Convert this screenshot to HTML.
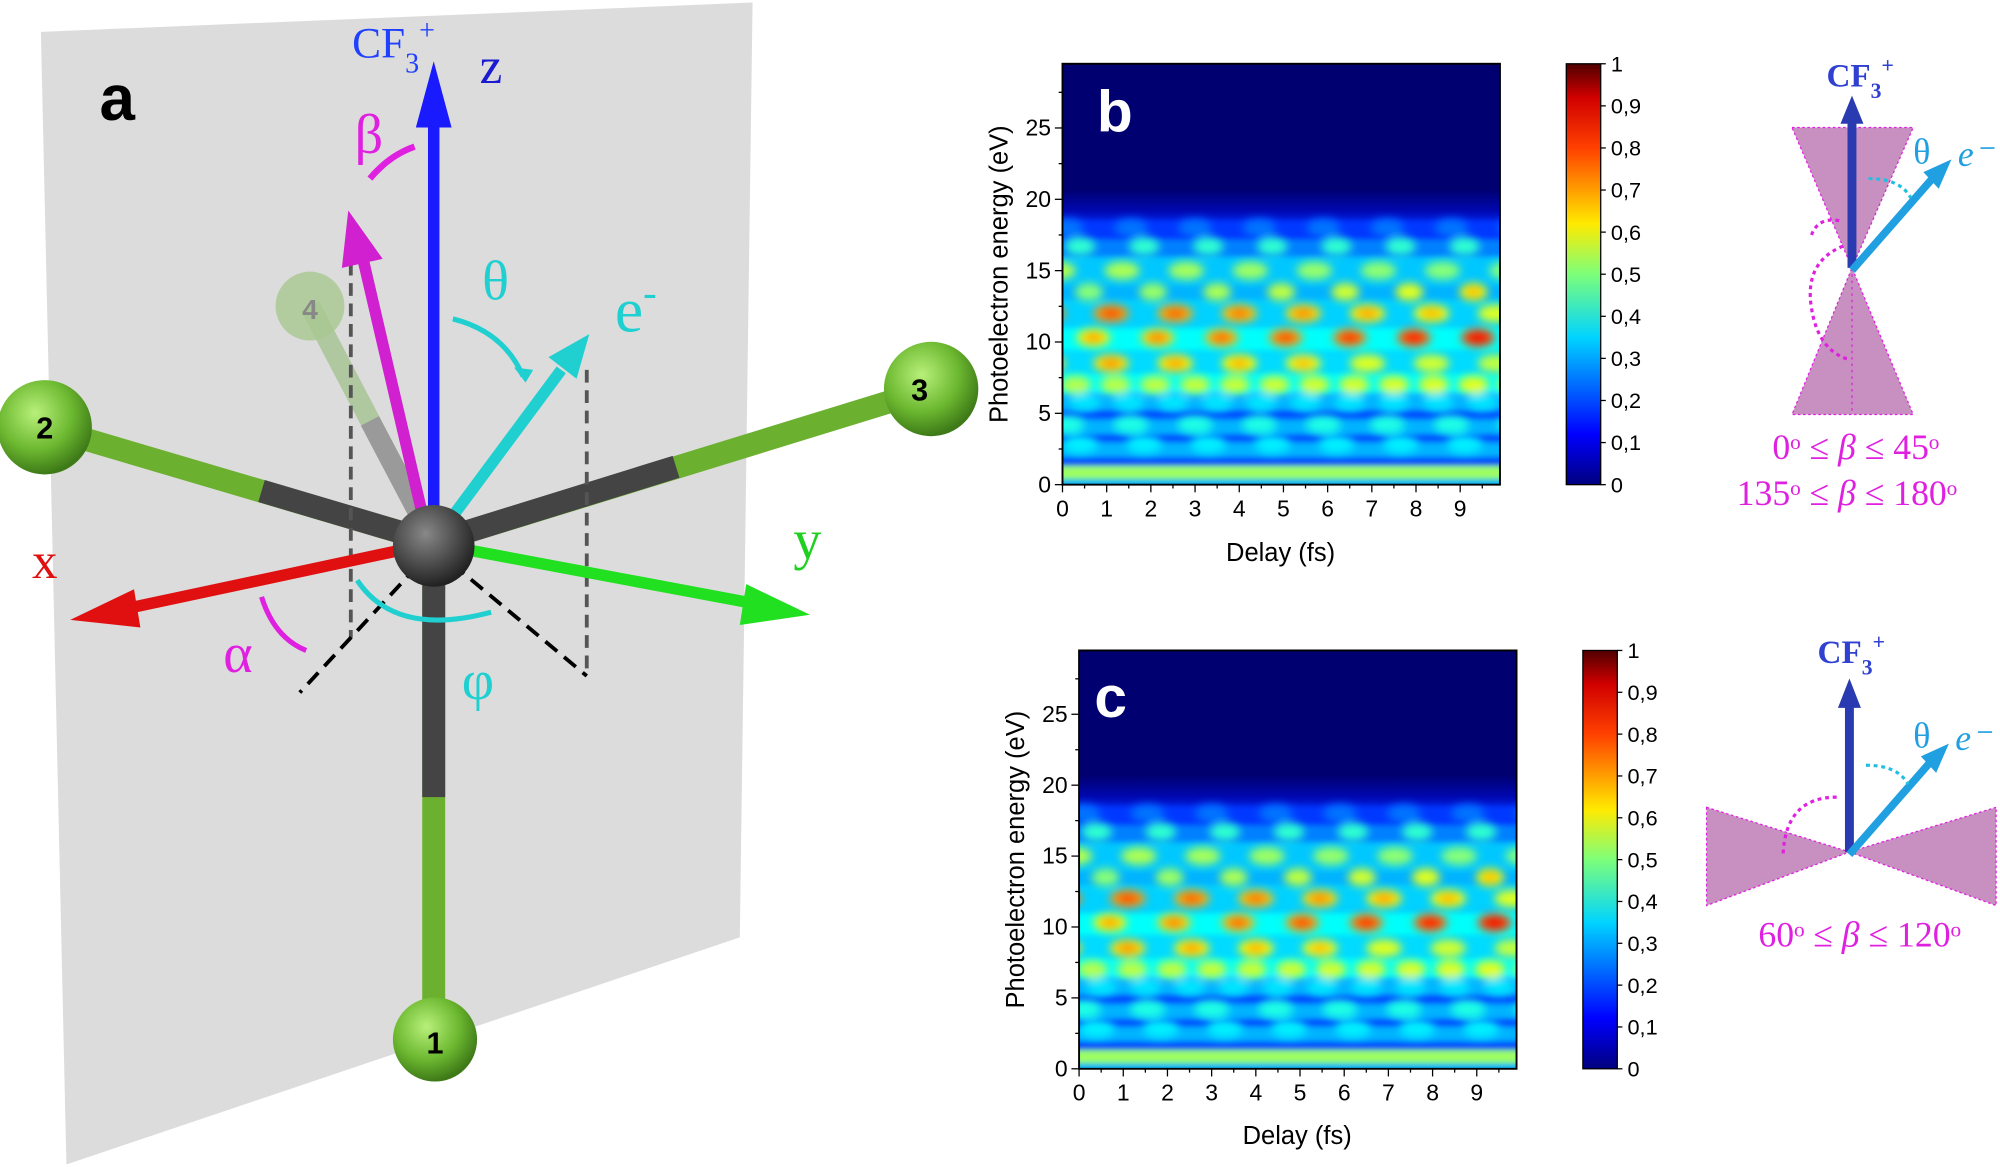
<!DOCTYPE html>
<html><head><meta charset="utf-8"><style>
html,body{margin:0;padding:0;background:#fff;width:2000px;height:1167px;overflow:hidden}
svg{display:block}
text{font-family:"Liberation Sans",sans-serif}
.s{font-family:"Liberation Serif",serif}
</style></head><body>
<svg id="s" width="2000" height="1167" viewBox="0 0 1568 915" xmlns="http://www.w3.org/2000/svg">
<defs>
<linearGradient id="jet" x1="0" y1="1" x2="0" y2="0">
<stop offset="0" stop-color="#00007f"/><stop offset="0.12" stop-color="#0000ff"/><stop offset="0.35" stop-color="#00d4ff"/><stop offset="0.5" stop-color="#7dff7a"/><stop offset="0.62" stop-color="#ffea00"/><stop offset="0.8" stop-color="#ff4000"/><stop offset="0.92" stop-color="#d00000"/><stop offset="1" stop-color="#500000"/>
</linearGradient>
<linearGradient id="top" x1="0" y1="0" x2="0" y2="1">
<stop offset="0" stop-color="#000070"/><stop offset="0.55" stop-color="#000070"/><stop offset="0.8" stop-color="#0008b0"/><stop offset="1" stop-color="#0030ff"/>
</linearGradient>
<radialGradient id="ball" cx="0.4" cy="0.35" r="0.65"><stop offset="0" stop-color="#b8f07a"/><stop offset="0.6" stop-color="#6cb830"/><stop offset="1" stop-color="#3e7a18"/></radialGradient>
<radialGradient id="cball" cx="0.4" cy="0.35" r="0.65"><stop offset="0" stop-color="#888"/><stop offset="1" stop-color="#222"/></radialGradient>
<filter id="bl" x="-20%" y="-50%" width="140%" height="200%"><feGaussianBlur stdDeviation="3.5"/></filter>
<filter id="bl2" x="-20%" y="-50%" width="140%" height="200%"><feGaussianBlur stdDeviation="2"/></filter>
<clipPath id="cb"><rect x="833" y="50" width="343" height="330"/></clipPath>
<clipPath id="cc"><rect x="846" y="510" width="343" height="328"/></clipPath>
</defs>
<polygon points="32,25 590,2 580,735 52,913" fill="#dcdcdc"/>
<g stroke-linecap="butt">
<line x1="340" y1="425" x2="243" y2="240" stroke="#b0c8a0" stroke-width="16"/>
<line x1="340" y1="425" x2="290" y2="330" stroke="#9a9a9a" stroke-width="16"/>
<line x1="340" y1="425" x2="35" y2="335" stroke="#6cb030" stroke-width="18"/>
<line x1="340" y1="425" x2="205" y2="385" stroke="#444" stroke-width="18"/>
<line x1="340" y1="425" x2="730" y2="305" stroke="#6cb030" stroke-width="18"/>
<line x1="340" y1="425" x2="530" y2="366" stroke="#444" stroke-width="18"/>
<line x1="340" y1="425" x2="340" y2="815" stroke="#6cb030" stroke-width="18"/>
<line x1="340" y1="425" x2="340" y2="625" stroke="#444" stroke-width="18"/>
</g>
<g stroke="#555" stroke-width="3" stroke-dasharray="10,6" fill="none">
<line x1="275" y1="190" x2="275" y2="500"/><line x1="460" y1="290" x2="460" y2="530"/>
</g>
<g stroke="#000" stroke-width="3" stroke-dasharray="12,7"><line x1="340" y1="430" x2="235" y2="543"/><line x1="340" y1="430" x2="460" y2="530"/></g>
<circle cx="243" cy="240" r="27" fill="#a8c890" opacity="0.8"/><text x="243" y="250" font-size="22" font-weight="bold" fill="#888" text-anchor="middle">4</text>
<circle cx="35" cy="335" r="37" fill="url(#ball)"/><text x="35" y="344" font-size="24" font-weight="bold" text-anchor="middle">2</text>
<circle cx="730" cy="305" r="37" fill="url(#ball)"/><text x="721" y="314" font-size="24" font-weight="bold" text-anchor="middle">3</text>
<circle cx="341" cy="815" r="33" fill="url(#ball)"/><text x="341" y="826" font-size="24" font-weight="bold" text-anchor="middle">1</text>
<line x1="340" y1="420" x2="340" y2="95" stroke="#1a1aff" stroke-width="9"/><polygon points="326,100 354,100 340,48" fill="#1a1aff"/>
<line x1="330" y1="428" x2="100" y2="477" stroke="#e01010" stroke-width="9"/><polygon points="55,486 105,462 110,492" fill="#e01010"/>
<line x1="350" y1="428" x2="590" y2="473" stroke="#20e020" stroke-width="9"/><polygon points="635,482 585,458 580,490" fill="#20e020"/>
<line x1="345" y1="418" x2="440" y2="290" stroke="#20d0d0" stroke-width="9"/><polygon points="462,262 430,280 452,297" fill="#20d0d0"/>
<line x1="335" y1="420" x2="285" y2="205" stroke="#d020d0" stroke-width="9"/><polygon points="273,165 268,210 300,203" fill="#d020d0"/>
<circle cx="340" cy="428" r="32" fill="url(#cball)"/>
<path d="M355,250 Q395,260 410,295" stroke="#20d0d0" stroke-width="4" fill="none"/><polygon points="403,288 418,290 412,300" fill="#20d0d0"/>
<path d="M325,115 Q305,122 290,140" stroke="#e020e0" stroke-width="5" fill="none"/>
<path d="M205,468 Q215,500 240,510" stroke="#e020e0" stroke-width="4" fill="none"/>
<path d="M280,455 Q310,500 385,480" stroke="#20d0d0" stroke-width="4" fill="none"/>
<text x="78" y="94" font-size="50" font-weight="bold">a</text>
<text x="276" y="45" class="s" font-size="34" fill="#2040ff">CF<tspan font-size="22" dy="12">3</tspan><tspan font-size="22" dy="-26">+</tspan></text>
<text x="376" y="65" class="s" font-size="40" fill="#1a1ad0">z</text>
<text x="278" y="120" class="s" font-size="44" fill="#e020e0">β</text>
<text x="378" y="235" class="s" font-size="44" fill="#20d0d0">θ</text>
<text x="482" y="260" class="s" font-size="50" fill="#20d0d0">e<tspan font-size="32" dy="-20">-</tspan></text>
<text x="25" y="453" class="s" font-size="40" fill="#e01010">x</text>
<text x="622" y="438" class="s" font-size="44" fill="#20d020">y</text>
<text x="175" y="527" class="s" font-size="44" fill="#e020e0">α</text>
<text x="362" y="548" class="s" font-size="44" fill="#20d0d0">φ</text>
<g id="hb" clip-path="url(#cb)"></g>
<g id="hc" clip-path="url(#cc)"></g>
<rect x="833" y="50" width="343" height="330" fill="none" stroke="#000" stroke-width="1.5"/>
<rect x="846" y="510" width="343" height="328" fill="none" stroke="#000" stroke-width="1.5"/>
<text x="860" y="103" font-size="46" font-weight="bold" fill="#fff">b</text>
<text x="858" y="562" font-size="46" font-weight="bold" fill="#fff">c</text>
<g id="ax" font-size="18"></g>
<text transform="translate(790,215) rotate(-90)" font-size="20" text-anchor="middle">Photoelectron energy (eV)</text>
<text transform="translate(803,674) rotate(-90)" font-size="20" text-anchor="middle">Photoelectron energy (eV)</text>
<text x="1004" y="440" font-size="20" text-anchor="middle">Delay (fs)</text>
<text x="1017" y="897" font-size="20" text-anchor="middle">Delay (fs)</text>
<rect x="1228" y="50" width="27" height="330" fill="url(#jet)" stroke="#000"/>
<rect x="1241" y="510" width="27" height="328" fill="url(#jet)" stroke="#000"/>
<g id="cbt" font-size="17"></g>
<polygon points="1405,100 1500,100 1452,210 1500,325 1405,325 1452,210" fill="#c890c0" stroke="#e020e0" stroke-dasharray="2,2"/>
<line x1="1452" y1="210" x2="1452" y2="325" stroke="#e020e0" stroke-dasharray="2,3"/>
<line x1="1452" y1="210" x2="1452" y2="95" stroke="#2a3ab0" stroke-width="7"/><polygon points="1443,97 1461,97 1452,75" fill="#2a3ab0"/>
<line x1="1452" y1="212" x2="1515" y2="140" stroke="#20a0e0" stroke-width="6"/><polygon points="1530,125 1508,135 1520,148" fill="#20a0e0"/>
<path d="M1465,140 Q1490,140 1498,155" stroke="#20c0e0" stroke-width="2.5" stroke-dasharray="3,3" fill="none"/>
<path d="M1445,193 Q1415,205 1420,240 Q1425,275 1450,282" stroke="#e020e0" stroke-width="2.5" stroke-dasharray="3,3" fill="none"/>
<path d="M1442,173 Q1425,170 1420,185" stroke="#e020e0" stroke-width="2.5" stroke-dasharray="3,3" fill="none"/>
<text x="1432" y="68" class="s" font-size="26" font-weight="bold" fill="#3040d0">CF<tspan font-size="17" dy="9">3</tspan><tspan font-size="17" dy="-20">+</tspan></text>
<text x="1500" y="128" class="s" font-size="28" fill="#20a0e0">θ</text><text x="1535" y="130" class="s" font-size="28" font-style="italic" fill="#20a0e0">e⁻</text>
<text x="1455" y="360" class="s" font-size="28" fill="#e020e0" text-anchor="middle">0ᵒ ≤ <tspan font-style="italic">β</tspan> ≤ 45ᵒ</text>
<text x="1448" y="396" class="s" font-size="28" fill="#e020e0" text-anchor="middle">135ᵒ ≤ <tspan font-style="italic">β</tspan> ≤ 180ᵒ</text>
<polygon points="1338,633 1450,668 1338,710" fill="#c890c0" stroke="#e020e0" stroke-dasharray="2,2"/>
<polygon points="1565,633 1450,668 1565,710" fill="#c890c0" stroke="#e020e0" stroke-dasharray="2,2"/>
<line x1="1450" y1="668" x2="1450" y2="553" stroke="#2a3ab0" stroke-width="7"/><polygon points="1441,555 1459,555 1450,532" fill="#2a3ab0"/>
<line x1="1450" y1="670" x2="1513" y2="598" stroke="#20a0e0" stroke-width="6"/><polygon points="1528,583 1506,593 1518,606" fill="#20a0e0"/>
<path d="M1463,600 Q1488,600 1496,615" stroke="#20c0e0" stroke-width="2.5" stroke-dasharray="3,3" fill="none"/>
<path d="M1440,625 Q1400,625 1398,670" stroke="#e020e0" stroke-width="2.5" stroke-dasharray="3,3" fill="none"/>
<text x="1425" y="520" class="s" font-size="26" font-weight="bold" fill="#3040d0">CF<tspan font-size="17" dy="9">3</tspan><tspan font-size="17" dy="-20">+</tspan></text>
<text x="1500" y="586" class="s" font-size="28" fill="#20a0e0">θ</text><text x="1533" y="588" class="s" font-size="28" font-style="italic" fill="#20a0e0">e⁻</text>
<text x="1458" y="742" class="s" font-size="28" fill="#e020e0" text-anchor="middle">60ᵒ ≤ <tspan font-style="italic">β</tspan> ≤ 120ᵒ</text>
</svg>
<script>
var NS="http://www.w3.org/2000/svg";
function el(p,t,a){var e=document.createElementNS(NS,t);for(var k in a)e.setAttribute(k,a[k]);p.appendChild(e);return e;}
function jet(v){v=Math.max(0,Math.min(1,v));var r=Math.min(4*v-1.5,-4*v+4.5),g=Math.min(4*v-0.5,-4*v+3.5),b=Math.min(4*v+0.5,-4*v+2.5);
function c(x){return Math.round(255*Math.max(0,Math.min(1,x)));}return "rgb("+c(r)+","+c(g)+","+c(b)+")";}
function heat(id,x0,y0,w,h,shift){
 var g=document.getElementById(id), ppe=h/29.5, ppf=w/9.9;
 function Y(e){return y0+h-e*ppe;}
 el(g,"rect",{x:x0,y:y0,width:w,height:h,fill:"#000070"});
 el(g,"rect",{x:x0,y:Y(24),width:w,height:6*ppe,fill:"url(#top)"});
 var bg=el(g,"g",{filter:"url(#bl2)"});
 var base=[[-1,0.5,0.3],[0.5,1.3,0.5],[1.3,2,0.2],[2,3,0.3],[3,3.6,0.2],[3.6,4.6,0.3],[4.6,5.3,0.2],[5.3,6.5,0.3],[6.5,7.8,0.38],[7.8,9.5,0.34],[9.5,11,0.38],[11,13,0.33],[13,14,0.3],[14,16,0.32],[16,17.2,0.25],[17.2,18.5,0.18]];
 base.forEach(function(b){el(bg,"rect",{x:x0-5,y:Y(b[1]),width:w+10,height:(b[1]-b[0])*ppe+0.5,fill:jet(b[2])});});
 var fg=el(g,"g",{filter:"url(#bl)"});
 // [energy, value, period, phase, rx, trend]
 var rows=[[15,0.55,1.45,0,14,-0.05],[13.5,0.5,1.45,0.7,11,0.12],[12,0.74,1.45,1.2,14,-0.15],[10.3,0.62,1.45,0.8,13,0.2],[8.5,0.66,1.45,1.2,14,-0.1],[7,0.55,0.9,0.6,12,0.05],[16.7,0.42,1.45,0.5,12,0],[18,0.24,1.45,0.2,13,0],[2.8,0.36,1.45,0.5,14,0],[4.2,0.4,1.45,0.2,14,0],[5.8,0.35,1.0,0.5,12,0]];
 rows.forEach(function(r){
  for(var t=r[3]-3;t<11;t+=r[2]){var tt=t+shift;var cx=x0+tt*ppf;
   var v=r[1]+r[5]*(tt/10);
   el(fg,"ellipse",{cx:cx,cy:Y(r[0]),rx:r[4],ry:7,fill:jet(v)});
   if(v>0.6) el(fg,"ellipse",{cx:cx,cy:Y(r[0]),rx:r[4]*0.6,ry:4,fill:jet(v+0.08)});
  }});
 el(fg,"rect",{x:x0-5,y:Y(1.1),width:w+10,height:0.5*ppe,fill:jet(0.55)});
}
heat("hb",833,50,343,330,0);
heat("hc",846,510,343,328,0);
var ax=document.getElementById("ax");
function axes(x0,y0,w,h){
 var ppe=h/29.5,ppf=w/9.9;
 for(var e=0;e<=25;e+=5){var y=y0+h-e*ppe;el(ax,"line",{x1:x0-6,y1:y,x2:x0,y2:y,stroke:"#000"});var t=el(ax,"text",{x:x0-9,y:y+6,"text-anchor":"end"});t.textContent=e;}
 for(var e=2.5;e<29;e+=5){var y=y0+h-e*ppe;el(ax,"line",{x1:x0-3,y1:y,x2:x0,y2:y,stroke:"#000"});}
 for(var f=0;f<=9;f++){var x=x0+f*ppf;el(ax,"line",{x1:x,y1:y0+h,x2:x,y2:y0+h+6,stroke:"#000"});var t=el(ax,"text",{x:x,y:y0+h+25,"text-anchor":"middle"});t.textContent=f;
  el(ax,"line",{x1:x+ppf/2,y1:y0+h,x2:x+ppf/2,y2:y0+h+3,stroke:"#000"});}
}
axes(833,50,343,330);axes(846,510,343,328);
var cbt=document.getElementById("cbt");
function cbl(x,y0,h){for(var i=0;i<=10;i++){var y=y0+h-i*h/10;var t=el(cbt,"text",{x:x+8,y:y+6});t.textContent=i==0?"0":i==10?"1":"0,"+i;el(cbt,"line",{x1:x,y1:y,x2:x+4,y2:y,stroke:"#000"});}}
cbl(1255,50,330);cbl(1268,510,328);
</script>
</body></html>
